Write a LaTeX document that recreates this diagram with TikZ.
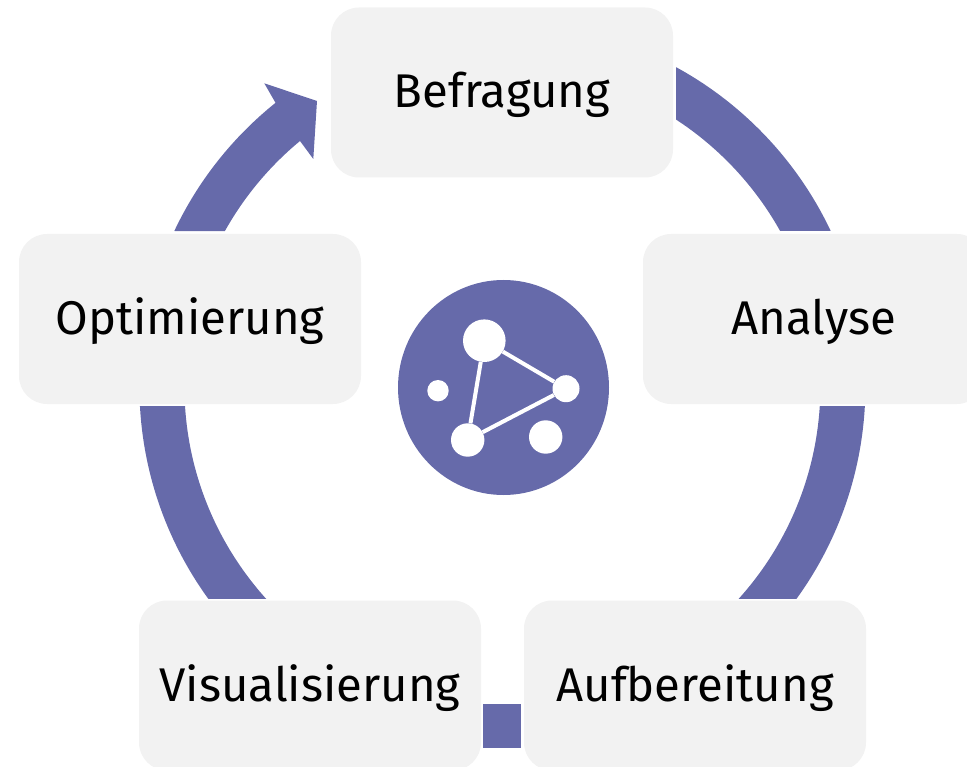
\documentclass[tikz,border=0pt]{standalone}
\usepackage{fontspec}
\usetikzlibrary{shapes.geometric}
\setmainfont{Fira Sans}
\definecolor{ringc}{HTML}{666AAA}
\definecolor{boxc}{HTML}{F2F2F2}
\tikzset{
  x=1pt,y=-1pt,
  stepbox/.style={fill=boxc,rounded corners=28pt,minimum width=342pt,minimum height=170pt,inner sep=0pt,
    font=\fontsize{47.3}{52}\selectfont,text=black,text height=41pt,text depth=10pt},
  ring/.style={draw=ringc,line width=45pt},
  dot/.style={circle,fill=white,inner sep=0pt},
  link/.style={draw=white,line width=4pt}
}
\begin{document}
\begin{tikzpicture}
\useasboundingbox (0,0) rectangle (967,767);
\clip (0,0) rectangle (967,767);
\coordinate (ctr) at (502.4,386);
% ring pieces
\begin{scope}
\clip (676,0) rectangle (967,231);
\draw[ring] (ctr) circle[radius=340.5pt];
\end{scope}
\begin{scope}
\clip (502,406.5) rectangle (967,598);
\draw[ring] (ctr) circle[radius=340.5pt];
\end{scope}
\begin{scope}
\clip (0,406.5) rectangle (502,598);
\draw[ring] (ctr) circle[radius=340.5pt];
\end{scope}
\fill[ringc] (483,704) rectangle (521,748);
% arrow
\fill[ringc] (174.3,231) arc[start angle=154.7,end angle=128.7,radius=363pt]
  -- (264.3,83.3) -- (317,101) -- (313.3,159) -- (300,141)
  arc[start angle=129.55,end angle=150.83,radius=318pt] -- cycle;
% boxes
\node[stepbox] (bef) at (502,92.5) {Befragung};
\node[stepbox] (ana) at (814,319) {Analyse};
\node[stepbox] (auf) at (695,685.5) {Aufbereitung};
\node[stepbox] (vis) at (310,685.5) {Visualisierung};
\node[stepbox] (opt) at (190,319) {Optimierung};
% logo
\node[ellipse,fill=ringc,minimum width=211pt,minimum height=215pt,inner sep=0pt] (logo) at (503.5,387.5) {};
\node[dot,minimum size=42.6pt] (n1) at (484.3,340.7) {};
\node[dot,minimum size=27pt] (n2) at (566,388.7) {};
\node[dot,minimum size=33.4pt] (n3) at (467.7,440) {};
\node[dot,minimum size=21.4pt] (n4) at (438,390.7) {};
\node[dot,minimum size=33.4pt] (n5) at (545.7,437) {};
\draw[link] (n1) -- (n2);
\draw[link] (n2) -- (n3);
\draw[link] (n3) -- (n1);
\end{tikzpicture}
\end{document}
